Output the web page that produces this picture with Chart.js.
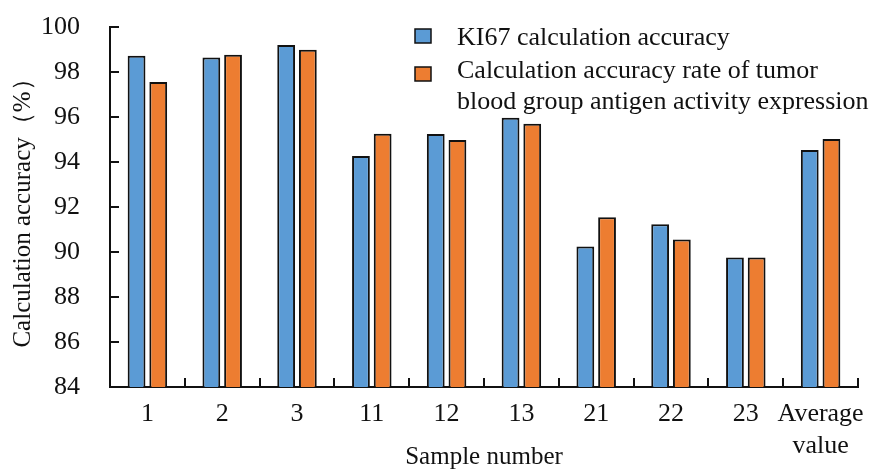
<!DOCTYPE html>
<html>
<head>
<meta charset="utf-8">
<script src="https://cdn.jsdelivr.net/npm/chart.js@4/dist/chart.umd.min.js"></script>
<style>
  html, body { margin: 0; padding: 0; background: #fff; }
  #wrap { width: 882px; height: 470px; position: relative; }
</style>
</head>
<body>
<div id="wrap"><canvas id="chart"></canvas></div>
<script>
// data
const categories = ['1', '2', '3', '11', '12', '13', '21', '22', '23', ['Average', 'value']];
const ki67 = [98.72, 98.65, 99.2, 94.27, 95.24, 95.97, 90.24, 91.23, 89.76, 94.53];
const tumor = [97.56, 98.77, 98.99, 95.26, 94.98, 95.70, 91.54, 90.56, 89.76, 95.02];
const seriesNames = ['KI67 calculation accuracy',
  ['Calculation accuracy rate of tumor', 'blood group antigen activity expression']];
const yMin = 84, yMax = 100, yStep = 2;

const serif = '"Liberation Serif", "Times New Roman", serif';
Chart.defaults.font.family = serif;
Chart.defaults.color = '#111';

// inward tick marks on both axes
const innerTicks = {
  id: 'innerTicks',
  afterDraw(chart) {
    const ctx = chart.ctx;
    const x = chart.scales.x, y = chart.scales.y;
    const area = chart.chartArea;
    ctx.save();
    ctx.strokeStyle = '#111';
    ctx.lineWidth = 2;
    ctx.beginPath();
    y.ticks.forEach((t, i) => {
      const py = Math.round(y.getPixelForTick(i));
      ctx.moveTo(area.left, py);
      ctx.lineTo(area.left + 9, py);
    });
    const n = categories.length;
    for (let i = 1; i <= n; i++) {
      const px = Math.round(x.getPixelForValue(i - 0.5));
      ctx.moveTo(px, area.bottom);
      ctx.lineTo(px, area.bottom - 9);
    }
    ctx.stroke();
    ctx.restore();
  }
};

// legend with a wrapped second entry
const boxLegend = {
  id: 'boxLegend',
  afterDraw(chart) {
    const ctx = chart.ctx;
    ctx.save();
    ctx.font = '26px ' + serif;
    ctx.textBaseline = 'middle';
    const boxes = [36, 74];
    const rows = [38, 71];
    chart.data.datasets.forEach((ds, i) => {
      ctx.fillStyle = ds.backgroundColor;
      ctx.fillRect(415, boxes[i] - 7, 16, 14);
      ctx.strokeStyle = '#111';
      ctx.lineWidth = 1.5;
      ctx.strokeRect(415, boxes[i] - 7, 16, 14);
      ctx.fillStyle = '#111';
      const lines = Array.isArray(seriesNames[i]) ? seriesNames[i] : [seriesNames[i]];
      lines.forEach((l, j) => ctx.fillText(l, 457, rows[i] + j * 31));
    });
    ctx.restore();
  }
};

const ctx = document.getElementById('chart');
new Chart(ctx, {
  type: 'bar',
  data: {
    labels: categories,
    datasets: [
      { label: 'KI67', data: ki67, backgroundColor: '#5B9BD5', borderColor: '#111', borderWidth: 2 },
      { label: 'Tumor', data: tumor, backgroundColor: '#ED7D31', borderColor: '#111', borderWidth: 2 }
    ]
  },
  options: {
    responsive: true,
    maintainAspectRatio: false,
    animation: false,
    layout: { padding: { top: 27, right: 24, left: 0, bottom: 0 } },
    datasets: { bar: { categoryPercentage: 0.58, barPercentage: 0.82 } },
    plugins: { legend: { display: false }, tooltip: { enabled: false } },
    scales: {
      x: {
        grid: { display: false },
        border: { display: true, color: '#111', width: 2 },
        ticks: { font: { size: 26, lineHeight: 1.2 }, padding: 4, maxRotation: 0, autoSkip: false },
        title: { display: true, text: 'Sample number', font: { size: 25, lineHeight: 1 }, padding: { top: 0, bottom: 0 } },
        afterFit(s) { s.height = 83; s.paddingLeft = 0; s.paddingRight = 0; }
      },
      y: {
        min: yMin, max: yMax,
        grid: { display: false, drawTicks: false },
        border: { display: true, color: '#111', width: 2 },
        ticks: { stepSize: yStep, font: { size: 26 }, padding: 30 },
        title: { display: true, text: 'Calculation accuracy（%）', font: { size: 25 }, padding: { top: 8, bottom: 0 } },
        afterFit(s) { s.width = 110; s.paddingTop = 0; s.paddingBottom = 0; }
      }
    }
  },
  plugins: [innerTicks, boxLegend]
});
</script>
</body>
</html>
